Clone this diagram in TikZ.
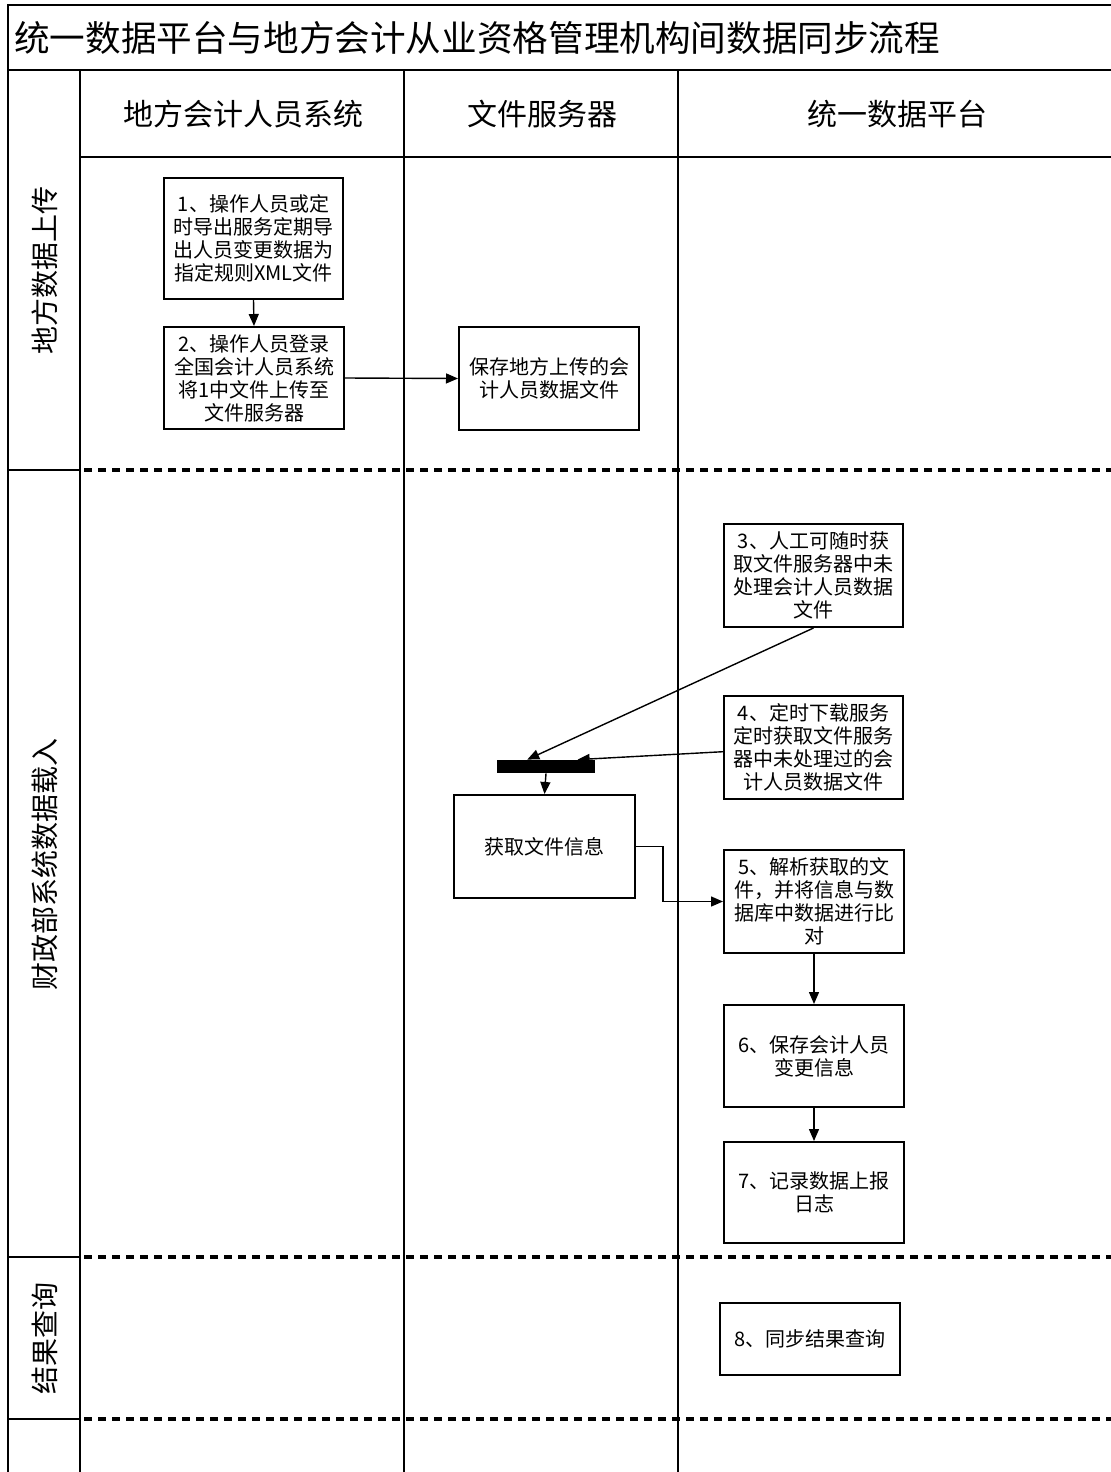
\documentclass[tikz,border=0pt]{standalone}
\usepackage{fontspec}
\setmainfont{Noto Sans CJK SC}
\usetikzlibrary{arrows.meta,calc}
\begin{document}
\begin{tikzpicture}[x=0.5pt,y=-0.5pt,
  frame/.style={line width=1pt},
  gridline/.style={line width=0.8pt},
  lanesep/.style={line width=2pt,dash pattern=on 4pt off 3pt},
  box/.style={draw,line width=1pt,align=center,inner sep=2pt,
    font=\fontsize{10pt}{11.5pt}\selectfont},
  arr/.style={line width=0.7pt,-{Triangle[length=6pt,width=5pt]}},
  hdr/.style={font=\fontsize{15pt}{18pt}\selectfont},
  lanelbl/.style={rotate=90,font=\fontsize{14pt}{17pt}\selectfont},
]
\useasboundingbox (0,0) rectangle (1111,1472);
\fill[white] (0,0) rectangle (1111,1472);

% frame and grid
\draw[frame] (1111,5) -- (8,5) -- (8,1472);
\draw[frame] (8,70) -- (1111,70);
\draw[gridline] (80,157) -- (1111,157);
\draw[gridline] (80,70) -- (80,1472);
\draw[gridline] (404,70) -- (404,1472);
\draw[gridline] (678,70) -- (678,1472);
\foreach \yy in {470,1257,1419}{
  \draw[gridline] (8,\yy) -- (80,\yy);
  \draw[lanesep] (84,\yy) -- (1111,\yy);
}

% title and headers
\node[anchor=west,inner sep=0pt,font=\fontsize{17.8pt}{20pt}\selectfont] (title) at (14,38) {统一数据平台与地方会计从业资格管理机构间数据同步流程};
\node[hdr] (h1) at (243,114) {地方会计人员系统};
\node[hdr] (h2) at (542,114) {文件服务器};
\node[hdr] (h3) at (897,114) {统一数据平台};

% lane labels
\node[lanelbl] (l1) at (45,270) {地方数据上传};
\node[lanelbl] (l2) at (45,864) {财政部系统数据载入};
\node[lanelbl] (l3) at (45,1338) {结果查询};

% boxes
\node[box,minimum width=89.5pt,minimum height=60.5pt] (b1) at (253.5,238.5)
  {1、操作人员或定\\时导出服务定期导\\出人员变更数据为\\指定规则XML文件};
\node[box,minimum width=90pt,minimum height=51pt] (b2) at (254,378)
  {2、操作人员登录\\全国会计人员系统\\将1中文件上传至\\文件服务器};
\node[box,minimum width=90pt,minimum height=51.5pt] (bs) at (549,378.5)
  {保存地方上传的会\\计人员数据文件};
\node[box,minimum width=89.5pt,minimum height=51.5pt] (b3) at (813.5,575.5)
  {3、人工可随时获\\取文件服务器中未\\处理会计人员数据\\文件};
\node[box,minimum width=89.5pt,minimum height=51.5pt] (b4) at (813.5,747.5)
  {4、定时下载服务\\定时获取文件服务\\器中未处理过的会\\计人员数据文件};
\node[fill=black,inner sep=0pt,minimum width=49pt,minimum height=6.5pt] (bar) at (546,766.5) {};
\node[box,minimum width=90.5pt,minimum height=51.5pt] (bg) at (544.5,846.5)
  {获取文件信息};
\node[box,minimum width=90pt,minimum height=51.5pt] (b5) at (814,901.5)
  {5、解析获取的文\\件，并将信息与数\\据库中数据进行比\\对};
\node[box,minimum width=90pt,minimum height=51pt] (b6) at (814,1056)
  {6、保存会计人员\\变更信息};
\node[box,minimum width=90pt,minimum height=50.5pt] (b7) at (814,1192.5)
  {7、记录数据上报\\日志};
\node[box,minimum width=90pt,minimum height=36pt] (b8) at (810,1339)
  {8、同步结果查询};

% connectors
\draw[arr] (b1.south) -- (b2.north);
\draw[arr] (b2.east) -- (bs.west);
\draw[arr] (b3.south) -- ($(bar.north west)!0.31!(bar.north east)$);
\draw[arr] ($(b4.north west)!0.54!(b4.south west)$) -- ($(bar.north west)!0.82!(bar.north east)$);
\draw[arr] (bar.south) -- (bg.north);
\draw[arr] (bg.east) -- ++(27,0) |- (b5.west);
\draw[arr] (b5.south) -- (b6.north);
\draw[arr] (b6.south) -- (b7.north);
\end{tikzpicture}
\end{document}
